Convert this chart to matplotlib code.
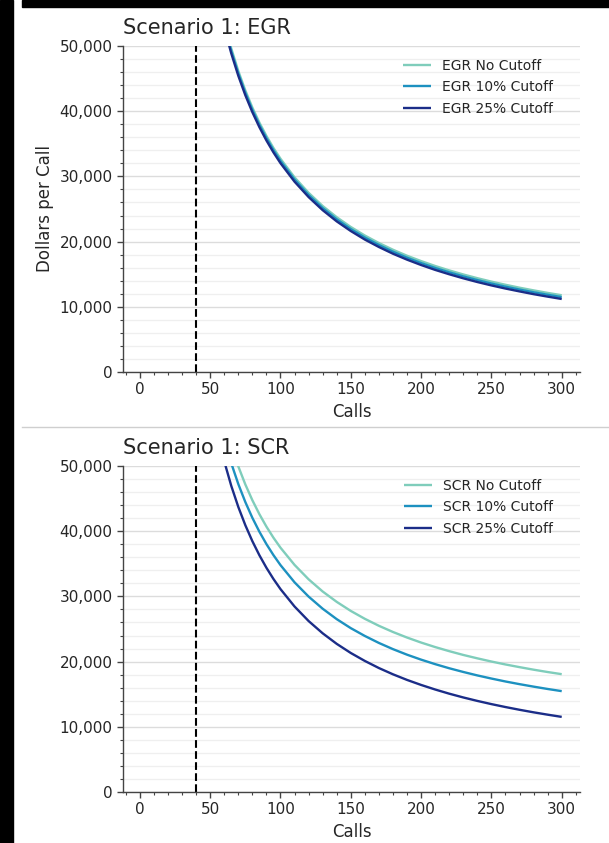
import matplotlib
matplotlib.use("Agg")
import matplotlib.pyplot as plt
from matplotlib.ticker import MultipleLocator, FuncFormatter
from matplotlib.patches import Rectangle
from matplotlib.lines import Line2D

calls = [60, 65, 70, 75, 80, 85, 90, 95, 100, 110, 120, 130, 140, 150, 160,
         170, 180, 190, 200, 210, 220, 230, 240, 250, 260, 270, 280, 290, 300]

egr_none = [53650, 49620, 46170, 43180, 40560, 38250, 36200, 34360, 32710, 29850,
            27480, 25460, 23740, 22240, 20930, 19780, 18750, 17830, 17010, 16260,
            15580, 14960, 14390, 13860, 13380, 12930, 12520, 12130, 11770]
egr_10 = [53260, 49240, 45800, 42820, 40200, 37900, 35860, 34020, 32370, 29520,
          27160, 25140, 23420, 21930, 20620, 19480, 18450, 17530, 16710, 15960,
          15290, 14670, 14100, 13570, 13090, 12650, 12230, 11850, 11490]
egr_25 = [52870, 48860, 45430, 42450, 39850, 37550, 35510, 33680, 32030, 29190,
          26830, 24820, 23100, 21620, 20310, 19170, 18140, 17230, 16410, 15660,
          14990, 14370, 13800, 13280, 12800, 12360, 11940, 11560, 11200]

scr_none = [56870, 53140, 49940, 47170, 44750, 42610, 40700, 39000, 37470, 34830,
            32620, 30750, 29160, 27770, 26560, 25490, 24540, 23690, 22920, 22230,
            21600, 21020, 20500, 20010, 19560, 19150, 18760, 18400, 18070]
scr_10 = [54130, 50420, 47230, 44470, 42050, 39920, 38020, 36330, 34800, 32160,
          29970, 28110, 26510, 25130, 23930, 22860, 21910, 21060, 20300, 19610,
          18980, 18410, 17880, 17400, 16950, 16540, 16160, 15800, 15470]
scr_25 = [50720, 46950, 43720, 40920, 38470, 36310, 34390, 32670, 31120, 28450,
          26220, 24340, 22720, 21320, 20100, 19010, 18050, 17190, 16420, 15720,
          15080, 14500, 13970, 13480, 13030, 12610, 12220, 11860, 11520]

cutoff_line = 40
egr_labels = ["EGR No Cutoff", "EGR 10% Cutoff", "EGR 25% Cutoff"]
scr_labels = ["SCR No Cutoff", "SCR 10% Cutoff", "SCR 25% Cutoff"]
titles = ["Scenario 1: EGR", "Scenario 1: SCR"]
colors = ["#7fcdbb", "#1d91c0", "#1b2d88"]

TXT = "#262626"
fig = plt.figure(figsize=(6.09, 8.43), dpi=100)
W, H = 609, 843

def add_ax(top_px, bot_px):
    left, right = 123, 580
    return fig.add_axes([left / W, 1 - bot_px / H, (right - left) / W, (bot_px - top_px) / H])

ax1 = add_ax(46, 372)
ax2 = add_ax(466, 792)

panels = [
    (ax1, [egr_none, egr_10, egr_25], egr_labels, titles[0], True),
    (ax2, [scr_none, scr_10, scr_25], scr_labels, titles[1], False),
]

for ax, series, labels, title, ylab in panels:
    ax.set_axisbelow(True)
    for s, lab, c in zip(series, labels, colors):
        ax.plot(calls, s, color=c, lw=1.7, label=lab, solid_capstyle="butt")
    ax.axvline(cutoff_line, color="black", lw=1.5, ls="--")
    ax.set_xlim(-12, 313)
    ax.set_ylim(0, 50000)
    ax.xaxis.set_major_locator(MultipleLocator(50))
    ax.xaxis.set_minor_locator(MultipleLocator(10))
    ax.yaxis.set_major_locator(MultipleLocator(10000))
    ax.yaxis.set_minor_locator(MultipleLocator(2000))
    ax.yaxis.set_major_formatter(FuncFormatter(lambda v, p: f"{int(v):,}"))
    ax.grid(axis="y", which="major", color="#dcdcdc", lw=1.0)
    ax.grid(axis="y", which="minor", color="#efefef", lw=0.9)
    ax.grid(axis="x", which="both", visible=False)
    for sp in ["top", "right"]:
        ax.spines[sp].set_visible(False)
    for sp in ["left", "bottom"]:
        ax.spines[sp].set_color("#444444")
        ax.spines[sp].set_linewidth(1.0)
    ax.tick_params(which="major", length=4, width=1, color="#444444",
                   labelsize=11, labelcolor=TXT)
    ax.tick_params(which="minor", length=2, width=0.8, color="#444444")
    ax.set_xlabel("Calls", fontsize=12, color=TXT)
    if ylab:
        ax.set_ylabel("Dollars per Call", fontsize=12, color=TXT)
    ax.set_title(title, loc="left", fontsize=15, color=TXT, pad=9)
    leg = ax.legend(loc="upper right", bbox_to_anchor=(0.968, 1.0), frameon=False,
                    fontsize=10, handlelength=2.0, labelspacing=0.55)
    for t in leg.get_texts():
        t.set_color(TXT)

# image border artifacts: black bands and separator line
fig.patches.append(Rectangle((0, 0), 13 / W, 1, transform=fig.transFigure,
                             color="black", zorder=10))
fig.patches.append(Rectangle((22 / W, 1 - 7 / H), 1, 7 / H, transform=fig.transFigure,
                             color="black", zorder=10))
fig.lines.append(Line2D([22 / W, 1], [1 - 427 / H, 1 - 427 / H],
                        transform=fig.transFigure, color="#cfcfcf", lw=1.0))

fig.savefig("out.png", dpi=100)
